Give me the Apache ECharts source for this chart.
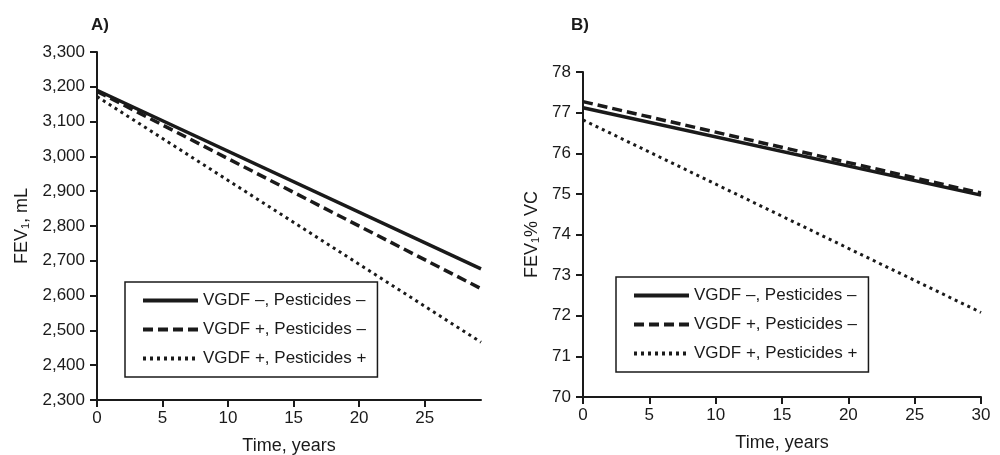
<!DOCTYPE html>
<html>
<head>
<meta charset="utf-8">
<script src="https://cdn.jsdelivr.net/npm/echarts@6/dist/echarts.min.js"></script>
<style>
  html, body { margin: 0; padding: 0; background: #fff; }
  #chart { width: 1000px; height: 455px; }
</style>
</head>
<body>
<div id="chart"></div>
<script>
var seriesNames = ['VGDF \u2013, Pesticides \u2013', 'VGDF +, Pesticides \u2013', 'VGDF +, Pesticides +'];

// panel A: FEV1, mL
var timeA = [0, 29.3];
var fevA_none = [3190, 2677];
var fevA_vgdf = [3187, 2620];
var fevA_both = [3172, 2466];
var ticksA_x = [0, 5, 10, 15, 20, 25];

// panel B: FEV1 % VC
var timeB = [0, 30];
var fevB_none = [77.12, 74.97];
var fevB_vgdf = [77.27, 75.02];
var fevB_both = [76.82, 72.08];

var font = 'Liberation Sans, Arial, sans-serif';
var ink = '#1a1a1a';
var styles = [
  { type: 'solid', width: 3.5 },
  { type: [10, 5], width: 3.5 },
  { type: [3, 4], width: 3 }
];

function pairs(xs, ys) {
  return xs.map(function (x, i) { return [x, ys[i]]; });
}

function axisCommon() {
  return {
    axisLine: { lineStyle: { color: ink, width: 2 } },
    axisTick: { length: 7, lineStyle: { color: ink, width: 2 } },
    axisLabel: { color: ink, fontSize: 17, fontFamily: font },
    splitLine: { show: false },
    nameTextStyle: { color: ink, fontSize: 18, fontFamily: font }
  };
}

function makeSeries(idx, xs, ys) {
  var out = [];
  ys.forEach(function (vals, k) {
    out.push({
      name: seriesNames[k],
      type: 'line',
      xAxisIndex: idx,
      yAxisIndex: idx,
      data: pairs(xs, vals),
      symbol: 'none',
      silent: true,
      itemStyle: { color: ink },
      lineStyle: { color: ink, width: styles[k].width, type: styles[k].type }
    });
  });
  return out;
}

var xA = Object.assign(axisCommon(), {
  type: 'value', gridIndex: 0, min: 0, max: 29.3,
  name: 'Time, years', nameLocation: 'middle', nameGap: 37
});
xA.axisTick.customValues = ticksA_x;
xA.axisLabel.customValues = ticksA_x;
xA.axisLabel.margin = 10;

var yA = Object.assign(axisCommon(), {
  type: 'value', gridIndex: 0, min: 2300, max: 3300, interval: 100,
  name: 'FEV\u2081, mL', nameLocation: 'middle', nameGap: 66
});
yA.axisLabel.margin = 12;
yA.axisLabel.formatter = function (v) { return v.toLocaleString('en-US'); };

var xB = Object.assign(axisCommon(), {
  type: 'value', gridIndex: 1, min: 0, max: 30, interval: 5,
  name: 'Time, years', nameLocation: 'middle', nameGap: 37
});
xB.axisLabel.margin = 10;

var yB = Object.assign(axisCommon(), {
  type: 'value', gridIndex: 1, min: 70, max: 78, interval: 1,
  name: 'FEV\u2081% VC', nameLocation: 'middle', nameGap: 42
});
yB.axisLabel.margin = 12;

function legendAt(left, top) {
  return {
    orient: 'vertical',
    left: left,
    top: top,
    data: seriesNames,
    selectedMode: false,
    itemWidth: 55,
    itemHeight: 14,
    itemGap: 12,
    padding: [10, 11, 10, 16],
    borderColor: ink,
    borderWidth: 1.5,
    backgroundColor: '#fff',
    itemStyle: { opacity: 0 },
    lineStyle: { width: 4 },
    textStyle: { color: ink, fontSize: 17, fontFamily: font }
  };
}

var chart = echarts.init(document.getElementById('chart'), null, { renderer: 'canvas' });
chart.setOption({
  animation: false,
  backgroundColor: '#fff',
  title: [
    { text: 'A)', left: 86, top: 12, textStyle: { color: ink, fontSize: 17, fontWeight: 'bold', fontFamily: font } },
    { text: 'B)', left: 566, top: 12, textStyle: { color: ink, fontSize: 17, fontWeight: 'bold', fontFamily: font } }
  ],
  grid: [
    { left: 97, right: 519, top: 52, bottom: 55, outerBoundsMode: 'none' },
    { left: 583, right: 19, top: 72, bottom: 58, outerBoundsMode: 'none' }
  ],
  legend: [legendAt(125, 282), legendAt(616, 277)],
  xAxis: [xA, xB],
  yAxis: [yA, yB],
  series: makeSeries(0, timeA, [fevA_none, fevA_vgdf, fevA_both])
    .concat(makeSeries(1, timeB, [fevB_none, fevB_vgdf, fevB_both]))
});
</script>
</body>
</html>
